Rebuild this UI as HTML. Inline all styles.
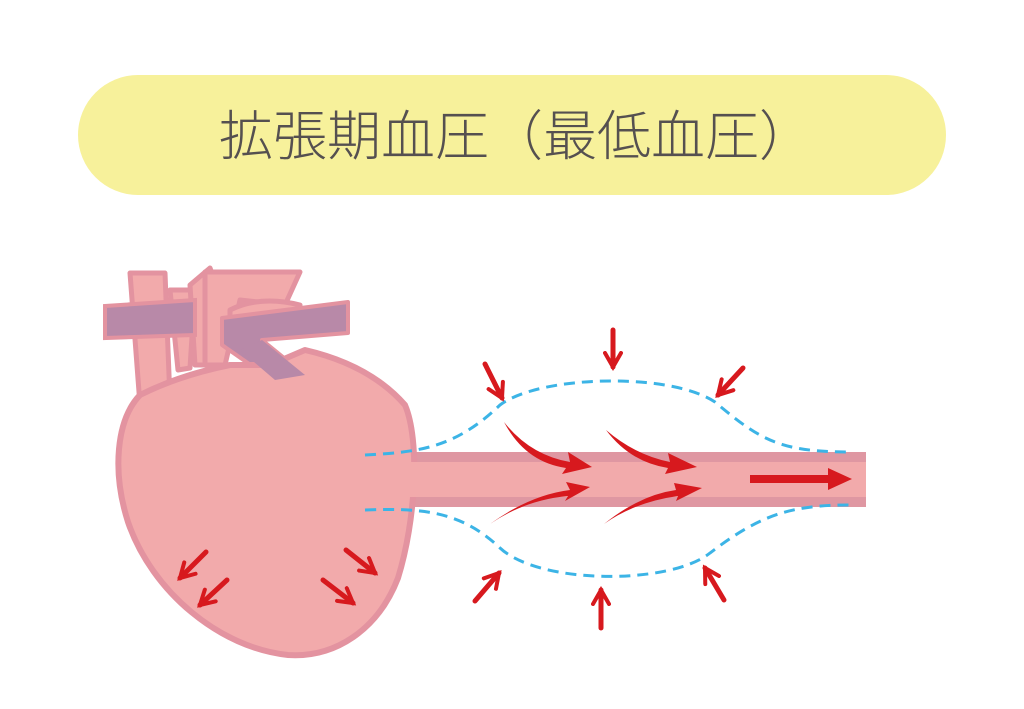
<!DOCTYPE html>
<html><head><meta charset="utf-8"><style>
html,body{margin:0;padding:0;background:#fff;width:1024px;height:709px;overflow:hidden}
</style></head><body>
<svg width="1024" height="709" viewBox="0 0 1024 709" xmlns="http://www.w3.org/2000/svg">
<defs>
<marker id="ah" viewBox="0 0 10 10" refX="8" refY="5" markerWidth="4" markerHeight="4" orient="auto">
<path d="M1 1 L8 5 L1 9" fill="none" stroke="#d7191e" stroke-width="2" stroke-linecap="round"/>
</marker>
</defs>
<rect x="78" y="75" width="868" height="120" rx="60" fill="#f7f19b"/>
<text x="516" y="155" text-anchor="middle" font-family="'Liberation Sans','Noto Sans CJK JP',sans-serif" font-size="54" font-weight="300" fill="#555050">拡張期血圧（最低血圧）</text>

<rect x="405" y="452" width="461" height="55" fill="#df97a2"/>
<rect x="405" y="462" width="461" height="35" fill="#f2aaab"/>

<g stroke="#e393a0" stroke-width="5" fill="#f2aaab" stroke-linejoin="round">
<path d="M130 273 L165 273 L170 400 L140 405 Z"/>
<path d="M170 290 L195 290 L190 368 L178 370 Z"/>
<path d="M190 285 L210 268 L218 290 L215 365 L195 365 Z"/>
<path d="M205 272 L300 272 L285 305 L240 300 L225 365 L205 365 Z"/>
<path d="M230 310 Q260 295 300 305 L300 320 L230 330 Z"/>
</g>
<path d="M105 306 L195 300 L195 335 L105 338 Z" fill="#b889a8" stroke="#e393a0" stroke-width="4"/>
<path d="M222 318 L348 302 L348 333 L262 340 L305 375 L272 380 L222 345 Z" fill="#b889a8" stroke="#e393a0" stroke-width="4" stroke-linejoin="round"/>

<path d="M140 395 Q180 375 230 365 L270 365 L305 350 Q370 365 405 405 C420 440 416 520 398 578 C378 630 335 658 288 655 C220 648 152 592 128 522 C112 472 116 420 140 395 Z" fill="#f2aaab" stroke="#e393a0" stroke-width="6" stroke-linejoin="round"/>
<path d="M262 340 L305 375 L275 380 L240 350 Z" fill="#b889a8"/>
<rect x="405" y="462" width="14" height="35" fill="#f2aaab"/>

<g fill="none" stroke="#3cb4e6" stroke-width="3" stroke-dasharray="11 7">
<path d="M365 455 C420 452 455 448 500 405 C540 375 670 372 715 402 C760 440 780 452 850 452"/>
<path d="M365 510 C420 508 460 510 500 548 C540 585 670 585 710 553 C760 515 790 505 850 505"/>
</g>

<g stroke="#d7191e" stroke-width="5" stroke-linecap="round" fill="none" marker-end="url(#ah)">
<line x1="206" y1="552" x2="180" y2="578"/>
<line x1="227" y1="580" x2="200" y2="605"/>
<line x1="346" y1="550" x2="375" y2="573"/>
<line x1="323" y1="580" x2="353" y2="603"/>
<line x1="485" y1="364" x2="502" y2="398"/>
<line x1="613" y1="330" x2="613" y2="367"/>
<line x1="743" y1="368" x2="718" y2="395"/>
<line x1="475" y1="601" x2="499" y2="573"/>
<line x1="601" y1="628" x2="601" y2="590"/>
<line x1="724" y1="600" x2="705" y2="568"/>
</g>
<g fill="#d7191e">
<path d="M504 422 Q530 455 570 462 L568 452 L592 467 L562 474 L566 468 Q525 462 504 422 Z"/>
<path d="M606 430 Q635 455 670 462 L668 453 L697 467 L665 474 L668 468 Q630 462 606 430 Z"/>
<path d="M490 524 Q530 495 570 490 L566 482 L590 487 L565 501 L568 496 Q525 500 490 524 Z"/>
<path d="M604 524 Q640 495 676 490 L674 483 L702 488 L676 501 L678 496 Q635 502 604 524 Z"/>
<rect x="750" y="475" width="80" height="8"/>
<path d="M828 468 L852 479 L828 490 Z"/>
</g>
</svg>
</body></html>
